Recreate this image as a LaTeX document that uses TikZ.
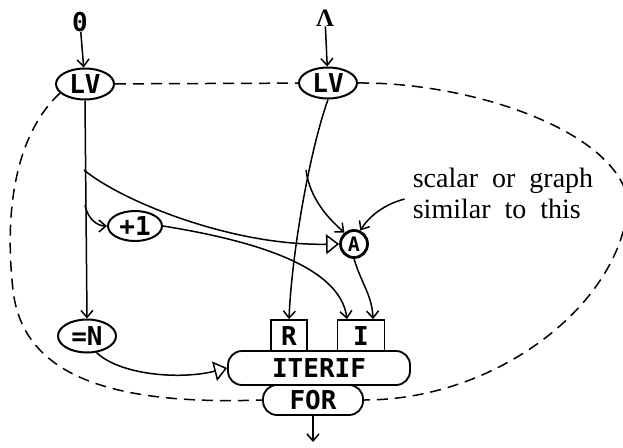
\documentclass[tikz,border=0pt]{standalone}
\usepackage{fontspec}
\setmainfont{Liberation Serif}
\newfontfamily\nodefont{DejaVu Sans Mono}
\usetikzlibrary{arrows.meta,shapes.geometric,calc,positioning}

\tikzset{
  lbl/.style={font=\nodefont\bfseries\fontsize{26}{30}\selectfont, inner sep=0pt},
  lv/.style={ellipse, draw, line width=2pt, minimum width=58pt, minimum height=31pt, inner sep=0pt, lbl},
  apply/.style={circle, draw, line width=2.8pt, minimum size=27pt, inner sep=0pt,
                font=\nodefont\bfseries\fontsize{20}{22}\selectfont},
  port/.style={rectangle, draw, line width=1.8pt, minimum height=32pt, inner sep=0pt, lbl},
  pill/.style={rectangle, rounded corners=14pt, draw, line width=1.8pt, inner sep=0pt, lbl},
  note/.style={align=left, inner sep=0pt, font=\fontsize{28}{31}\selectfont},
  wire/.style={line width=1.5pt, -{Straight Barb[length=7pt,width=12pt]}},
  trig/.style={line width=1.5pt, -{Triangle[open,length=13pt,width=20pt,line width=1.5pt]}},
  loop/.style={line width=1.5pt, dash pattern=on 11pt off 7pt}
}

\begin{document}
\begin{tikzpicture}[x=1pt,y=-1pt]
 \useasboundingbox (0,0) rectangle (623,447);
 \fill[white] (0,0) rectangle (623,447);

 % sources and loop variables
 \node[lbl] (zero) at (80,22) {0};
 \node[inner sep=0pt, font=\bfseries\fontsize{25}{27}\selectfont] (lam) at (325,18) {Λ};
 \node[lv] (lvA) at (85,84) {LV};
 \node[lv] (lvB) at (328,83) {LV};
 \node[lv, minimum width=54pt, minimum height=30pt] (plus) at (135,226) {+1};
 \node[lv, minimum height=33pt] (eqn) at (87,336) {=N};
 \node[apply] (app) at (354,244) {A};

 % the iterator
 \node[port, minimum width=36pt] (rport) at (289,336) {R};
 \node[port, minimum width=47pt] (iport) at (361,336) {I};
 \node[pill, minimum width=100pt, minimum height=30pt] (for) at (313,400) {FOR};
 \node[pill, minimum width=182pt, minimum height=34pt, fill=white] (iter) at (319,368) {ITERIF};
 \coordinate (out) at (313,442);

 \node[note] (note) at (503,193) {scalar\ \ or\ \ graph\\similar\ \ to\ \ this};

 % dashed loop
 \draw[loop] (lvA) -- (lvB);
 \draw[loop] (lvA.200) .. controls (20,130) and (3,200) .. (13,290)
   .. controls (23,380) and (120,405) .. (for.west);
 \draw[loop] (lvB.east) .. controls (470,82) and (615,130) .. (628,200)
   .. controls (625,300) and (500,400) .. (for.east);

 % connectors
 \draw[wire] (zero) -- (lvA);
 \draw[wire] (lam) -- (lvB);
 \draw[wire] (lvA.south) -- (eqn.north);
 \coordinate (b1) at (84,170);
 \coordinate (b2) at (85,205);
 \draw[trig] (b1) .. controls (120,200) and (230,246) .. (app.west);
 \draw[wire] (b2) .. controls (88,220) and (98,226) .. (plus.west);
 \draw[wire] (plus.east) .. controls (250,240) and (340,265) .. ([xshift=-14pt]iport.north);
 \draw[wire] (lvB.south) .. controls (310,150) and (292,250) .. (rport.north);
 \coordinate (b3) at (306,170);
 \draw[wire] (b3) .. controls (310,200) and (330,220) .. (app.130);
 \draw[wire] (note.west) ++(-8,6) .. controls (382,205) and (368,218) .. (app.65);
 \draw[wire] (app.south) .. controls (362,285) and (372,295) .. ([xshift=12pt]iport.north);
 \draw[trig] (eqn.-60) .. controls (120,375) and (180,380) .. (iter.west);
 \draw[wire] (for.south) -- (out);
\end{tikzpicture}
\end{document}
